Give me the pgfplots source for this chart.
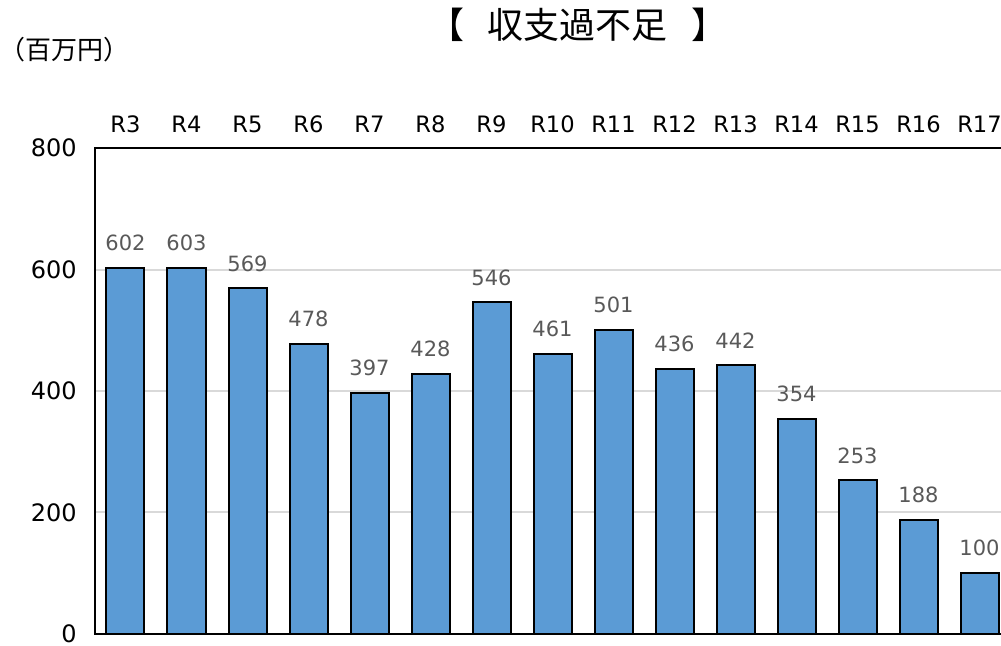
\documentclass[border=0pt]{standalone}
\usepackage{fontspec}
\setmainfont{DejaVu Sans}
\newfontfamily\cjk{Noto Sans CJK JP}
\usepackage{pgfplots}
\pgfplotsset{compat=1.18}
\definecolor{barblue}{HTML}{5B9BD5}
\definecolor{lblgray}{HTML}{595959}
\definecolor{gridgray}{HTML}{D9D9D9}
\begin{document}
\begin{tikzpicture}
\begin{axis}[
  at={(0,0)}, anchor=south west,
  scale only axis, width=457.5pt, height=243pt,
  xmin=-0.5, xmax=14.5, ymin=0, ymax=800,
  axis line style={black, line width=1pt},
  xtick={0,...,14},
  xticklabels={R3,R4,R5,R6,R7,R8,R9,R10,R11,R12,R13,R14,R15,R16,R17},
  xticklabel pos=right,
  ytick={0,200,400,600,800},
  major tick length=0pt,
  tick style={draw=none},
  ymajorgrids, grid style={gridgray, line width=1pt},
  /pgf/number format/assume math mode=true,
  xticklabel style={font=\fontsize{11.3pt}{13pt}\selectfont, inner sep=0pt, anchor=south, yshift=7.5pt},
  yticklabel style={font=\fontsize{12pt}{13pt}\selectfont, inner sep=0pt, anchor=east, xshift=-9pt},
  nodes near coords,
  every node near coord/.append style={font=\fontsize{10.5pt}{12pt}\selectfont, text=lblgray, inner sep=0pt, anchor=south, yshift=8pt},
]
\addplot[ybar, bar width=19pt, fill=barblue, draw=black, line width=1pt] coordinates {
(0,602) (1,603) (2,569) (3,478) (4,397) (5,428) (6,546) (7,461) (8,501) (9,436) (10,442) (11,354) (12,253) (13,188) (14,100)};
\end{axis}
\node[font=\cjk\fontsize{18pt}{20pt}\selectfont] at (241.5pt,304.5pt) {【\hspace{0.65em}収支過不足\hspace{0.65em}】};
\node[font=\cjk\fontsize{13pt}{15pt}\selectfont] at (-15pt,292pt) {（百万円）};
\pgfresetboundingbox
\path[use as bounding box] (-47.5pt,-6pt) rectangle (453pt,317pt);
\end{tikzpicture}
\end{document}
